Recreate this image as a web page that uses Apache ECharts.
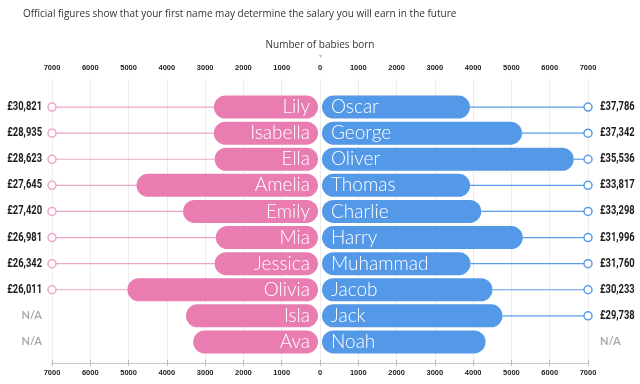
<!DOCTYPE html>
<html>
<head>
<meta charset="utf-8">
<script src="https://cdn.jsdelivr.net/npm/echarts@6/dist/echarts.min.js"></script>
<style>html,body{margin:0;padding:0;background:#fff}#c{width:640px;height:384px}</style>
</head>
<body>
<div id="c"></div>
<script>
var girlNames = ['Lily','Isabella','Ella','Amelia','Emily','Mia','Jessica','Olivia','Isla','Ava'];
var girlBabies = [2740, 2740, 2720, 4777, 3551, 2690, 2720, 5017, 3476, 3285];
var girlSalaries = ['£30,821','£28,935','£28,623','£27,645','£27,420','£26,981','£26,342','£26,011', null, null];
var boyNames = ['Oscar','George','Oliver','Thomas','Charlie','Harry','Muhammad','Jacob','Jack','Noah'];
var boyBabies = [3894, 5263, 6623, 3898, 4190, 5284, 3908, 4485, 4751, 4305];
var boySalaries = ['£37,786','£37,342','£35,536','£33,817','£33,298','£31,996','£31,760','£30,233','£29,738', null];
var AXIS_MAX = 7000;
var rows = girlNames.map(function(_, i){ return i; });

var PINK = '#E97DB2', PINK_LINE = '#EDA6C8', BLUE = '#5399E8', BLUE_LINE = '#5A9CE8';
var NAME_FONT = 'Lato';

function salaryRender(side) {
  return function(params, api) {
    var idx = api.value(0);
    var val = api.value(1);
    var sal = side === 'girl' ? girlSalaries[idx] : boySalaries[idx];
    var edge = side === 'girl' ? -AXIS_MAX : AXIS_MAX;
    var p1 = api.coord([edge, idx]);
    var p2 = api.coord([val, idx]);
    var lineC = side === 'girl' ? PINK_LINE : BLUE_LINE;
    var children = [];
    var tx = side === 'girl' ? p1[0] - 10 : p1[0] + 12;
    var align = side === 'girl' ? 'right' : 'left';
    if (sal) {
      children.push({type:'line', shape:{x1:p1[0], y1:p1[1], x2:p2[0], y2:p2[1]}, style:{stroke:lineC, lineWidth:1.2}, z2:1});
      children.push({type:'circle', shape:{cx:p1[0], cy:p1[1], r:4}, style:{fill:'#fff', stroke:lineC, lineWidth:1.5}, z2:2});
      children.push({type:'text', x:tx, y:p1[1], scaleX:0.78, style:{x:0, y:0, text:sal, align:align, verticalAlign:'middle', fill:'#1a1a1a', font:'bold 12px Roboto,sans-serif'}});
    } else {
      children.push({type:'text', x:tx, y:p1[1], style:{x:0, y:0, text:'N/A', align:align, verticalAlign:'middle', fill:'#aaaaaa', font:'bold 11px Lato,sans-serif'}});
    }
    return {type:'group', children:children};
  };
}

var axisLabelStyle = {fontSize:7.5, fontWeight:'bold', color:'#222', fontFamily:'"Liberation Sans",sans-serif',
  formatter:function(v){return String(Math.abs(v));}};

var option = {
  animation: false,
  title: [
    {text:'Official figures show that your first name may determine the salary you will earn in the future', left:18, top:4,
     textStyle:{fontSize:10, fontWeight:'normal', color:'#333', fontFamily:'"Open Sans",sans-serif'}},
    {text:'Number of babies born', left:'center', top:35,
     textStyle:{fontSize:10, fontWeight:'normal', color:'#333', fontFamily:'"Open Sans",sans-serif'}},
    {text:'▾', left:'center', top:48, textStyle:{fontSize:6, fontWeight:'normal', color:'#bbb'}}
  ],
  grid: [
    {left:52, right:52, top:79, height:284},
    {left:52, width:266, top:94, height:261},
    {left:322, width:266, top:94, height:261}
  ],
  xAxis: [
    {gridIndex:0, type:'value', position:'top', min:-AXIS_MAX, max:AXIS_MAX, interval:1000,
     axisLine:{show:true, lineStyle:{color:'#c8c8c8'}}, axisTick:{show:true, inside:true, length:3, lineStyle:{color:'#bbb'}},
     axisLabel:Object.assign({margin:7}, axisLabelStyle),
     splitLine:{show:true, lineStyle:{color:'#ececec'}}},
    {gridIndex:0, type:'value', position:'bottom', min:-AXIS_MAX, max:AXIS_MAX, interval:1000,
     axisLine:{show:true, lineStyle:{color:'#c8c8c8'}}, axisTick:{show:true, inside:true, length:3, lineStyle:{color:'#bbb'}},
     axisLabel:Object.assign({margin:6}, axisLabelStyle),
     splitLine:{show:false}},
    {gridIndex:1, type:'value', min:-AXIS_MAX, max:0, show:false},
    {gridIndex:2, type:'value', min:0, max:AXIS_MAX, show:false}
  ],
  yAxis: [
    {gridIndex:0, type:'value', show:false},
    {gridIndex:1, type:'category', data:rows, inverse:true, show:false},
    {gridIndex:2, type:'category', data:rows, inverse:true, show:false}
  ],
  series: [
    {type:'custom', xAxisIndex:2, yAxisIndex:1, renderItem:salaryRender('girl'), z:1,
     data: rows.map(function(i){ return [i, -girlBabies[i]]; }), encode:{x:1, y:0}},
    {type:'custom', xAxisIndex:3, yAxisIndex:2, renderItem:salaryRender('boy'), z:1,
     data: rows.map(function(i){ return [i, boyBabies[i]]; }), encode:{x:1, y:0}},
    {type:'bar', xAxisIndex:2, yAxisIndex:1, barWidth:23, z:3,
     itemStyle:{color:PINK, borderRadius:11.5},
     label:{show:true, position:'insideRight', distance:8, color:'#fff', fontSize:19, fontFamily:NAME_FONT, fontWeight:300,
            formatter:function(p){ return girlNames[p.dataIndex]; }},
     data: girlBabies.map(function(v){ return -v; })},
    {type:'bar', xAxisIndex:3, yAxisIndex:2, barWidth:23, z:3,
     itemStyle:{color:BLUE, borderRadius:11.5},
     label:{show:true, position:'insideLeft', distance:9, color:'#fff', fontSize:19, fontFamily:NAME_FONT, fontWeight:300,
            formatter:function(p){ return boyNames[p.dataIndex]; }},
     data: boyBabies}
  ]
};
echarts.init(document.getElementById('c')).setOption(option);
</script>
</body>
</html>
